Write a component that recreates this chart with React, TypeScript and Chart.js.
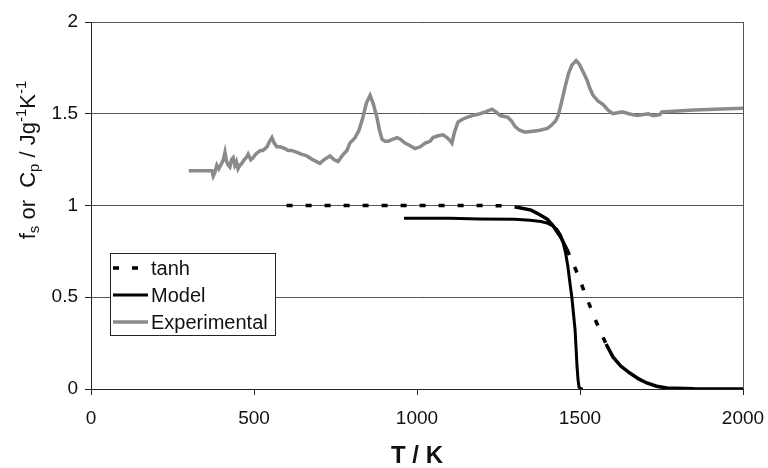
import { useEffect, useRef } from "react";
import { Chart, registerables } from "chart.js";

Chart.register(...registerables);

// ---------- data ----------
const seriesLabels = ["tanh", "Model", "Experimental"];

const tanhT = [600, 900, 1200, 1260, 1307, 1350, 1377, 1400, 1417, 1440, 1460, 1480, 1500, 1515, 1531, 1545, 1561, 1580, 1601, 1625, 1653, 1680, 1705, 1735, 1767, 1850, 2000];
const tanhFs = [1.0, 1.0, 1.0, 0.998, 0.99, 0.975, 0.95, 0.925, 0.89, 0.83, 0.76, 0.68, 0.595, 0.52, 0.45, 0.385, 0.32, 0.245, 0.175, 0.125, 0.087, 0.055, 0.033, 0.015, 0.005, 0.001, 0.0];

const modelT = [960, 1100, 1193, 1300, 1347, 1380, 1399, 1415, 1429, 1440, 1448, 1456, 1463, 1469, 1475, 1480, 1485, 1488, 1491, 1494, 1497, 1503, 1509];
const modelFs = [0.93, 0.93, 0.927, 0.925, 0.92, 0.913, 0.905, 0.89, 0.87, 0.84, 0.8, 0.74, 0.665, 0.58, 0.5, 0.41, 0.32, 0.22, 0.12, 0.05, 0.01, 0.0, 0.0];

const expT = [300, 371, 375, 380, 386, 392, 401, 406, 411, 416, 421, 426, 431, 436, 441, 446, 451, 457, 463, 470, 476, 482, 490, 497, 505, 512, 520, 527, 534, 540, 548, 555, 562, 570, 580, 595, 605, 615, 632, 645, 662, 680, 702, 715, 733, 745, 758, 770, 785, 794, 810, 822, 834, 845, 856, 865, 877, 885, 893, 902, 911, 925, 939, 950, 963, 975, 994, 1010, 1025, 1040, 1049, 1065, 1080, 1092, 1101, 1107, 1115, 1126, 1140, 1153, 1170, 1193, 1210, 1230, 1242, 1255, 1268, 1279, 1290, 1301, 1315, 1331, 1355, 1377, 1400, 1414, 1425, 1433, 1443, 1454, 1465, 1475, 1488, 1498, 1509, 1520, 1530, 1540, 1555, 1571, 1586, 1601, 1615, 1629, 1650, 1675, 1690, 1709, 1725, 1745, 1751, 1850, 2000];
const expCp = [1.19, 1.19, 1.16, 1.18, 1.22, 1.2, 1.23, 1.25, 1.29, 1.24, 1.22, 1.21, 1.25, 1.26, 1.22, 1.24, 1.2, 1.22, 1.23, 1.25, 1.26, 1.28, 1.25, 1.26, 1.28, 1.29, 1.3, 1.3, 1.31, 1.32, 1.35, 1.37, 1.34, 1.32, 1.32, 1.31, 1.3, 1.3, 1.29, 1.28, 1.27, 1.25, 1.23, 1.25, 1.27, 1.25, 1.24, 1.27, 1.3, 1.34, 1.37, 1.41, 1.48, 1.56, 1.6, 1.56, 1.48, 1.41, 1.36, 1.35, 1.35, 1.36, 1.37, 1.36, 1.34, 1.33, 1.31, 1.32, 1.34, 1.35, 1.37, 1.38, 1.385, 1.37, 1.355, 1.34, 1.4, 1.455, 1.47, 1.48, 1.49, 1.5, 1.51, 1.525, 1.51, 1.49, 1.485, 1.48, 1.46, 1.43, 1.41, 1.4, 1.405, 1.41, 1.42, 1.44, 1.46, 1.49, 1.56, 1.645, 1.72, 1.765, 1.79, 1.77, 1.73, 1.69, 1.64, 1.6, 1.57, 1.55, 1.52, 1.5, 1.505, 1.51, 1.5, 1.49, 1.495, 1.5, 1.49, 1.495, 1.51, 1.52, 1.53];

const xTicks = [0, 500, 1000, 1500, 2000];
const xTickLabels = ["0", "500", "1000", "1500", "2000"];
const yTicks = [0, 0.5, 1, 1.5, 2];
const yTickLabels = ["0", "0.5", "1", "1.5", "2"];
const xTitle = "T / K";
const yTitleParts = [
  { t: "f", k: "n" },
  { t: "s", k: "sub" },
  { t: " or  C", k: "n" },
  { t: "p", k: "sub" },
  { t: " / Jg", k: "n" },
  { t: "-1", k: "sup" },
  { t: "K", k: "n" },
  { t: "-1", k: "sup" },
];

const FONT = "'Liberation Sans', Arial, Helvetica, sans-serif";
const LEGEND_DASH = [6, 13];

const pts = (xs: number[], ys: number[]) => xs.map((x, i) => ({ x, y: ys[i] }));

const overlayPlugin = {
  id: "overlay",
  afterDraw(chart: any) {
    const ctx = chart.ctx as CanvasRenderingContext2D;
    // y axis title with sub/superscripts
    ctx.save();
    const mainSize = 22;
    const smallSize = 15;
    const measure = (p: any) => {
      ctx.font = `${p.k === "n" ? mainSize : smallSize}px ${FONT}`;
      return ctx.measureText(p.t).width;
    };
    const total = yTitleParts.reduce((s, p) => s + measure(p), 0);
    ctx.translate(35, 160);
    ctx.rotate(-Math.PI / 2);
    ctx.fillStyle = "#111";
    ctx.textBaseline = "alphabetic";
    ctx.textAlign = "left";
    let cx = -total / 2;
    for (const p of yTitleParts) {
      const w = measure(p);
      ctx.font = `${p.k === "n" ? mainSize : smallSize}px ${FONT}`;
      const dy = p.k === "sub" ? 4 : p.k === "sup" ? -9 : 0;
      ctx.fillText(p.t, cx, dy);
      cx += w;
    }
    ctx.restore();

    // legend box
    ctx.save();
    const bx = 110.5, by = 253.5, bw = 165, bh = 82;
    ctx.fillStyle = "#fff";
    ctx.fillRect(bx, by, bw, bh);
    ctx.strokeStyle = "#222";
    ctx.lineWidth = 1;
    ctx.strokeRect(bx, by, bw, bh);
    const rows = [268, 295, 322];
    chart.data.datasets.forEach((ds: any, i: number) => {
      const y = rows[i];
      ctx.beginPath();
      ctx.strokeStyle = ds.borderColor;
      ctx.lineWidth = ds.borderWidth;
      ctx.setLineDash(i === 0 ? LEGEND_DASH : []);
      ctx.moveTo(113, y);
      ctx.lineTo(148, y);
      ctx.stroke();
      ctx.setLineDash([]);
      ctx.fillStyle = "#111";
      ctx.font = `20px ${FONT}`;
      ctx.textBaseline = "middle";
      ctx.fillText(ds.label, 151, y + 1);
    });
    ctx.restore();
  },
};

export default function App() {
  const ref = useRef<HTMLCanvasElement | null>(null);
  useEffect(() => {
    if (!ref.current) return;
    const chart = new Chart(ref.current, {
      type: "line",
      data: {
        datasets: [
          {
            label: seriesLabels[0],
            data: pts(tanhT, tanhFs),
            borderColor: "#000",
            borderWidth: 3.5,
            segment: {
              borderDash: (c: any) => {
                const t = c.p0.parsed.x;
                return t < 1280 || (t >= 1455 && t < 1570) ? [6, 13] : [];
              },
            },
          },
          {
            label: seriesLabels[1],
            data: pts(modelT, modelFs),
            borderColor: "#000",
            borderWidth: 3,
          },
          {
            label: seriesLabels[2],
            data: pts(expT, expCp),
            borderColor: "#8a8a8a",
            borderWidth: 3.5,
          },
        ],
      },
      options: {
        animation: false,
        responsive: false,
        maintainAspectRatio: false,
        layout: { padding: { top: 22, right: 25, bottom: 0, left: 0 } },
        plugins: { legend: { display: false }, tooltip: { enabled: false } },
        elements: { point: { radius: 0 }, line: { tension: 0, borderCapStyle: "butt" } },
        scales: {
          x: {
            type: "linear",
            min: 0,
            max: 2000,
            afterBuildTicks: (s: any) => {
              s.ticks = xTicks.map((v) => ({ value: v }));
            },
            afterFit: (s: any) => {
              s.height = 79;
              s.paddingLeft = 0;
              s.paddingRight = 0;
            },
            grid: {
              color: (c: any) => (c.tick && c.tick.value === 2000 ? "#555" : "rgba(0,0,0,0)"),
              tickColor: "#222",
              tickLength: 6,
              lineWidth: 1,
            },
            border: { color: "#222", width: 1 },
            ticks: {
              font: { family: FONT, size: 19 },
              color: "#111",
              padding: 12,
              maxRotation: 0,
              autoSkip: false,
              callback: (_v: any, i: number) => xTickLabels[i],
            },
            title: {
              display: true,
              text: xTitle,
              color: "#111",
              font: { family: FONT, size: 24, weight: "bold", lineHeight: 1 },
              padding: { top: 0, bottom: 0 },
            },
          },
          y: {
            type: "linear",
            min: 0,
            max: 2,
            afterBuildTicks: (s: any) => {
              s.ticks = yTicks.map((v) => ({ value: v }));
            },
            afterFit: (s: any) => {
              s.width = 91;
              s.paddingTop = 0;
              s.paddingBottom = 0;
            },
            grid: { color: "#555", tickColor: "#222", tickLength: 6, lineWidth: 1 },
            border: { color: "#222", width: 1 },
            ticks: {
              font: { family: FONT, size: 19 },
              color: "#111",
              padding: 7,
              callback: (_v: any, i: number) => yTickLabels[i],
            },
          },
        },
      },
      plugins: [overlayPlugin],
    } as any);
    return () => chart.destroy();
  }, []);
  return (
    <div style={{ position: "absolute", left: 0, top: 0, width: 768, height: 468, background: "#fff" }}>
      <canvas ref={ref} width={768} height={468} style={{ display: "block" }} />
    </div>
  );
}
